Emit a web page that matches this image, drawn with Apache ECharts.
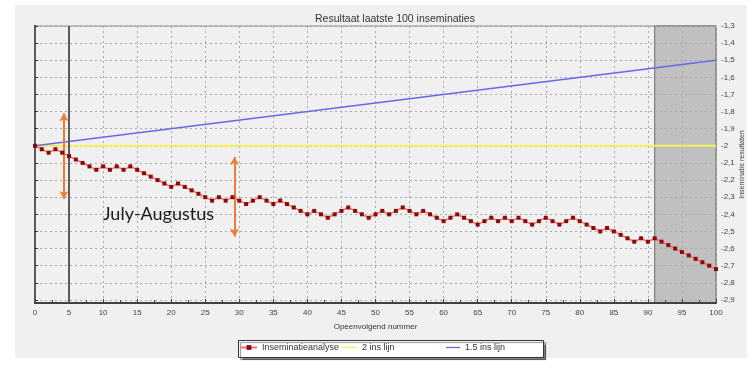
<!DOCTYPE html>
<html>
<head>
<meta charset="utf-8">
<script src="https://cdn.jsdelivr.net/npm/echarts@6/dist/echarts.min.js"></script>
<style>
html,body{margin:0;padding:0;background:#ffffff;}
#c{width:756px;height:373px;}
</style>
</head>
<body>
<div id="c"></div>
<script>
// ---- data ----
const titleText = 'Resultaat laatste 100 inseminaties';
const xAxisName = 'Opeenvolgend nummer';
const yAxisName = 'Inseminatie resultaten';
const seriesNames = ['Inseminatieanalyse', '2 ins lijn', '1.5 ins lijn'];

const xValues = [];
for (let i = 0; i <= 100; i++) xValues.push(i);

const analyseValues = [
  -2.00, -2.02, -2.04, -2.02, -2.04, -2.06, -2.08, -2.10, -2.12, -2.14,
  -2.12, -2.14, -2.12, -2.14, -2.12, -2.14, -2.16, -2.18, -2.20, -2.22,
  -2.24, -2.22, -2.24, -2.26, -2.28, -2.30, -2.32, -2.30, -2.32, -2.30,
  -2.32, -2.34, -2.32, -2.30, -2.32, -2.34, -2.32, -2.34, -2.36, -2.38,
  -2.40, -2.38, -2.40, -2.42, -2.40, -2.38, -2.36, -2.38, -2.40, -2.42,
  -2.40, -2.38, -2.40, -2.38, -2.36, -2.38, -2.40, -2.38, -2.40, -2.42,
  -2.44, -2.42, -2.40, -2.42, -2.44, -2.46, -2.44, -2.42, -2.44, -2.42,
  -2.44, -2.42, -2.44, -2.46, -2.44, -2.42, -2.44, -2.46, -2.44, -2.42,
  -2.44, -2.46, -2.48, -2.50, -2.48, -2.50, -2.52, -2.54, -2.56, -2.54,
  -2.56, -2.54, -2.56, -2.58, -2.60, -2.62, -2.64, -2.66, -2.68, -2.70,
  -2.72
];
const line2X = [0, 100];
const line2Values = [-2.0, -2.0];
const line15X = [0, 100];
const line15Values = [-2.0, -1.5];

const yTickValues = [-2.9, -2.8, -2.7, -2.6, -2.5, -2.4, -2.3, -2.2, -2.1, -2.0,
                     -1.9, -1.8, -1.7, -1.6, -1.5, -1.4, -1.3];
const shadeRange = [91, 100];
const markerX = 4.9;
const arrow1 = {x: 4.25, from: -1.81, to: -2.31};
const arrow2 = {x: 29.3, from: -2.065, to: -2.53};
const annotationText = 'July-Augustus';

// ---- build chart ----
const font = "'Liberation Sans', Arial, sans-serif";
const chart = echarts.init(document.getElementById('c'), null, {renderer: 'canvas'});

function pairs(xs, ys) { return xs.map((x, i) => [x, ys[i]]); }
function fmtY(v) {
  const r = Math.round(v * 10) / 10;
  return String(r).replace('.', ',');
}
const thinLine = 'path://M0,0 L16,0 L16,1.5 L0,1.5 Z';

const option = {
  animation: false,
  backgroundColor: '#ffffff',
  title: {
    text: titleText,
    left: 390, top: 9, textAlign: 'center',
    textStyle: {fontFamily: font, fontSize: 10.5, fontWeight: 'normal', color: '#333333'}
  },
  grid: {
    left: 35, right: 40, top: 26, bottom: 70,
    show: true, backgroundColor: '#f0f0f0', borderColor: '#8a8a8a', borderWidth: 1,
    containLabel: false, outerBoundsMode: 'none'
  },
  xAxis: {
    type: 'value', min: 0, max: 100, interval: 5, z: 2,
    name: xAxisName, nameLocation: 'middle', nameGap: 20, nameMoveOverlap: false,
    nameTextStyle: {fontFamily: font, fontSize: 8, color: '#333'},
    axisLine: {show: true, onZero: false, lineStyle: {color: '#404040', width: 2}},
    axisTick: {show: true, inside: true, length: 4, lineStyle: {color: '#404040'}},
    minorTick: {show: true, splitNumber: 2, length: 3, lineStyle: {color: '#404040'}},
    axisLabel: {fontFamily: font, fontSize: 8, color: '#444', margin: 6},
    splitLine: {show: true, lineStyle: {color: '#a8a8a8', type: [2, 3], width: 1}}
  },
  yAxis: [{
    type: 'value', position: 'right', min: -2.918, max: -1.3, z: 2,
    name: yAxisName, nameLocation: 'middle', nameGap: 23, nameRotate: 90, nameMoveOverlap: false,
    nameTextStyle: {fontFamily: font, fontSize: 7, color: '#444'},
    axisLine: {show: true, lineStyle: {color: '#111111', width: 2}},
    axisTick: {show: true, length: 3, customValues: yTickValues, lineStyle: {color: '#333'}},
    axisLabel: {fontFamily: font, fontSize: 8, color: '#444', margin: 5,
      customValues: yTickValues, formatter: fmtY},
    splitLine: {show: true, lineStyle: {color: '#a8a8a8', type: [2, 3], width: 1}}
  }, {
    type: 'value', position: 'left', min: -2.918, max: -1.3, z: 2,
    axisLine: {show: true, lineStyle: {color: '#5a5a5a', width: 2}},
    axisTick: {show: false}, axisLabel: {show: false}, splitLine: {show: false}
  }],
  legend: [
    {data: [seriesNames[0]], left: 240, top: 343, itemWidth: 16, itemHeight: 6, itemGap: 5, z: 20,
     textStyle: {fontFamily: font, fontSize: 9, color: '#333'}, padding: 0},
    {data: [{name: seriesNames[1], icon: thinLine}], left: 342, top: 343, itemWidth: 15, itemHeight: 8, itemGap: 4, z: 20,
     textStyle: {fontFamily: font, fontSize: 9, color: '#333'}, padding: 0},
    {data: [{name: seriesNames[2], icon: thinLine}], left: 446, top: 343, itemWidth: 14, itemHeight: 8, itemGap: 4, z: 20,
     textStyle: {fontFamily: font, fontSize: 9, color: '#333'}, padding: 0}
  ],
  graphic: [
    {type: 'rect', z: -100, silent: true,
     shape: {x: 15, y: 5, width: 732, height: 353},
     style: {fill: '#f0f0f0'}},
    {type: 'rect', z: 3, silent: true,
     shape: {x: 238.5, y: 340.5, width: 305, height: 17},
     style: {fill: '#ffffff', stroke: '#333333', lineWidth: 1,
       shadowColor: 'rgba(0,0,0,0.45)', shadowOffsetX: 2, shadowOffsetY: 2, shadowBlur: 1}},
    {type: 'text', z: 10, silent: true, x: 103, y: 214,
     style: {text: annotationText, fontFamily: "Lato, 'Open Sans', sans-serif", fontSize: 18,
       fill: '#1a1a1a', verticalAlign: 'middle', textAlign: 'left'}}
  ],
  series: [
    {
      name: 'shade', type: 'line', data: [], z: 1, silent: true,
      markArea: {
        silent: true,
        itemStyle: {color: '#c0c0c0', borderColor: '#6a6a6a', borderWidth: 1},
        data: [[{xAxis: shadeRange[0]}, {xAxis: shadeRange[1]}]]
      }
    },
    {
      name: seriesNames[1], type: 'line', z: 4,
      data: pairs(line2X, line2Values),
      showSymbol: false, symbol: 'none',
      lineStyle: {color: '#f3f35a', width: 2},
      itemStyle: {color: '#f3f35a'}
    },
    {
      name: seriesNames[2], type: 'line', z: 4,
      data: pairs(line15X, line15Values),
      showSymbol: false, symbol: 'none',
      lineStyle: {color: '#6868ec', width: 1.5},
      itemStyle: {color: '#6868ec'}
    },
    {
      name: seriesNames[0], type: 'line', z: 5,
      data: pairs(xValues, analyseValues),
      symbol: 'rect', symbolSize: 4, showAllSymbol: true,
      lineStyle: {color: '#f07272', width: 1.5},
      itemStyle: {color: '#8b0a0a', borderWidth: 0},
      markLine: {
        silent: true, animation: false,
        label: {show: false},
        data: [
          [{xAxis: markerX, yAxis: -2.918, symbol: 'none', lineStyle: {color: '#5a5a5a', width: 2, type: 'solid'}},
           {xAxis: markerX, yAxis: -1.3, symbol: 'none'}],
          [{coord: [arrow1.x, arrow1.from], symbol: 'arrow', symbolSize: [7, 8], lineStyle: {color: '#ed7d31', width: 2, type: 'solid'}},
           {coord: [arrow1.x, arrow1.to], symbol: 'arrow', symbolSize: [7, 8]}],
          [{coord: [arrow2.x, arrow2.from], symbol: 'arrow', symbolSize: [7, 8], lineStyle: {color: '#ed7d31', width: 2, type: 'solid'}},
           {coord: [arrow2.x, arrow2.to], symbol: 'arrow', symbolSize: [7, 8]}]
        ]
      }
    }
  ]
};
chart.setOption(option);
</script>
</body>
</html>
